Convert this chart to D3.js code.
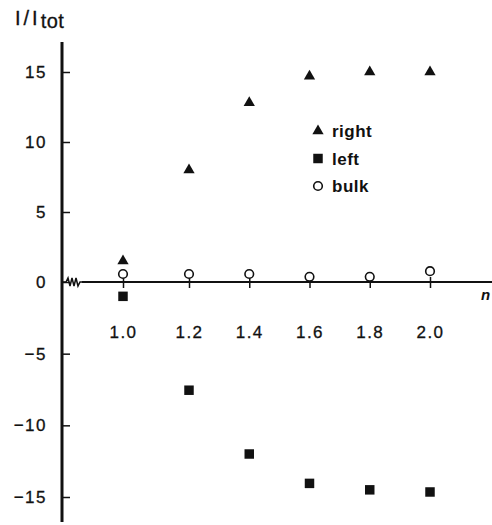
<!DOCTYPE html>
<html>
<head>
<meta charset="utf-8">
<script src="https://cdn.jsdelivr.net/npm/d3@7"></script>
<style>
  body { margin: 0; background: #fff; }
  text { font-family: "Liberation Sans", Arial, sans-serif; fill: #111; }
</style>
</head>
<body>
<div class="chart"></div>
<script>
// values
const xValues = [1.0, 1.2, 1.4, 1.6, 1.8, 2.0]
const rightValues = [1.5, 8.0, 12.8, 14.7, 15.0, 15.0]
const leftValues = [-1.0, -7.55, -12.0, -14.05, -14.5, -14.65]
const bulkValues = [0.5, 0.5, 0.5, 0.3, 0.3, 0.7]
const yTicks = [-15, -10, -5, 0, 5, 10, 15]
const legendLabels = ["right", "left", "bulk"]

const width = 492, height = 525
const svg = d3.select(".chart").append("svg").attr("width", width).attr("height", height)

const x = d3.scaleLinear().domain([1.0, 1.2, 2.0]).range([123, 189, 430])
const y = d3.scaleLinear().domain([-15, 0, 15]).range([497, 282, 72])
const axisX = 62

// y axis: ticks point right, labels left
const yAxis = svg.append("g").attr("transform", `translate(${axisX},0)`)
  .call(d3.axisLeft(y).tickValues(yTicks).tickFormat(d3.format("d")).tickSizeInner(-8).tickSizeOuter(0).tickPadding(15))
yAxis.select(".domain").remove()
yAxis.selectAll(".tick line").attr("stroke", "#111").attr("stroke-width", 1.5)
yAxis.selectAll("text").style("font-size", "17px").attr("letter-spacing", "1.5px")
  .attr("fill", "#111").attr("stroke", "#111").attr("stroke-width", 0.3)
svg.append("line").attr("x1", axisX).attr("x2", axisX).attr("y1", 42).attr("y2", 522)
  .attr("stroke", "#111").attr("stroke-width", 3)

// x axis with break
const y0 = y(0)
const xAxis = svg.append("g").attr("transform", `translate(0,${y0})`)
  .call(d3.axisBottom(x).tickValues(xValues).tickFormat(d3.format(".1f")).tickSizeInner(6).tickSizeOuter(0).tickPadding(38))
xAxis.select(".domain").remove()
xAxis.selectAll(".tick line").attr("y1", -5).attr("stroke", "#111").attr("stroke-width", 1.5)
xAxis.selectAll("text").style("font-size", "17px").attr("letter-spacing", "1.5px")
  .attr("fill", "#111").attr("stroke", "#111").attr("stroke-width", 0.3)
svg.append("line").attr("x1", 82).attr("x2", width).attr("y1", y0).attr("y2", y0)
  .attr("stroke", "#111").attr("stroke-width", 2)
const zig = [[axisX, y0], [66, y0], [68, y0 - 4], [70, y0 + 4], [72, y0 - 4], [74, y0 + 4], [76, y0 - 4], [78, y0 + 4], [80, y0], [82, y0]]
svg.append("path").attr("d", d3.line()(zig)).attr("fill", "none").attr("stroke", "#111").attr("stroke-width", 1.5)

// axis variable at right edge
svg.append("text").attr("x", 481).attr("y", 300).style("font-size", "15px")
  .style("font-style", "italic").style("font-weight", "bold").text("n")

// y label
const title = svg.append("text").attr("x", 15).attr("y", 25).style("font-size", "20px")
  .attr("stroke", "#111").attr("stroke-width", 0.3)
title.append("tspan").attr("letter-spacing", "3px").text("I/I")
title.append("tspan").attr("dy", 3).attr("letter-spacing", "0.5px").text("tot")

// markers
const tri = d3.symbol().type(d3.symbolTriangle).size(55)
const sq = d3.symbol().type(d3.symbolSquare).size(90)

svg.selectAll(".right").data(rightValues).enter().append("path").attr("class", "right")
  .attr("d", tri).attr("fill", "#111")
  .attr("transform", (d, i) => `translate(${x(xValues[i])},${y(d)})`)

svg.selectAll(".left").data(leftValues).enter().append("path").attr("class", "left")
  .attr("d", sq).attr("fill", "#111")
  .attr("transform", (d, i) => `translate(${x(xValues[i])},${y(d)})`)

svg.selectAll(".bulk").data(bulkValues).enter().append("circle").attr("class", "bulk")
  .attr("cx", (d, i) => x(xValues[i])).attr("cy", d => y(d) - 1).attr("r", 4.3)
  .attr("fill", "#fff").attr("stroke", "#111").attr("stroke-width", 1.6)

// legend
const legend = svg.selectAll(".legend").data(legendLabels).enter().append("g").attr("class", "legend")
  .attr("transform", (d, i) => `translate(318,${131 + i * 27.5})`)
legend.append("path").filter((d, i) => i < 2)
  .attr("d", (d, i) => i === 0 ? tri() : sq()).attr("fill", "#111")
legend.filter((d, i) => i === 2).append("circle").attr("r", 4.3)
  .attr("fill", "#fff").attr("stroke", "#111").attr("stroke-width", 1.6)
legend.append("text").attr("x", 14).attr("y", 6).style("font-size", "17px").style("font-weight", "bold")
  .attr("letter-spacing", "0.5px").attr("fill", "#111").text(d => d)
</script>
</body>
</html>
